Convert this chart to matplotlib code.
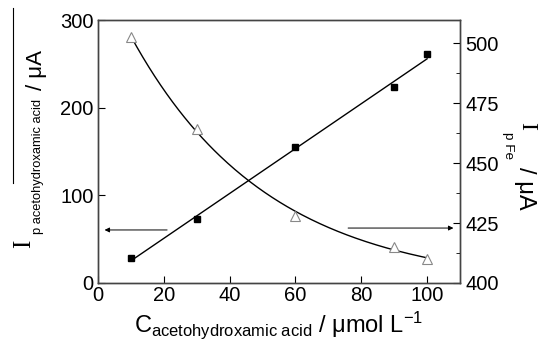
import numpy as np
import matplotlib.pyplot as plt
from matplotlib.ticker import MultipleLocator

plt.rcParams['font.family'] = ['Liberation Sans', 'DejaVu Sans']
plt.rcParams['mathtext.fontset'] = 'custom'
plt.rcParams['mathtext.rm'] = 'Liberation Sans'
plt.rcParams['mathtext.it'] = 'Liberation Sans:italic'

# data
conc = [10, 30, 60, 90, 100]
i_aha = [28, 73, 155, 224, 261]          # left axis, filled squares
i_fe = [502.4, 464.3, 428.0, 415.1, 410.1]  # right axis, open triangles

x = np.array(conc, dtype=float)
y1 = np.array(i_aha)
y2 = np.array(i_fe)

# linear fit for squares
k, b = np.polyfit(x, y1, 1)
xf = np.linspace(10, 100, 200)

# exponential decay fit for triangles: y = y0 + A*exp(-x/t)
best = None
for t in np.linspace(5, 200, 800):
    M = np.column_stack([np.ones_like(x), np.exp(-x / t)])
    c, res, _, _ = np.linalg.lstsq(M, y2, rcond=None)
    err = np.sum((M @ c - y2) ** 2)
    if best is None or err < best[0]:
        best = (err, t, c)
_, tau, (y0, A) = best

W, H = 539, 355
fig = plt.figure(figsize=(W / 100, H / 100), dpi=100)
ax = fig.add_axes([98 / W, 1 - 283 / H, (460 - 98) / W, (283 - 20) / H])
ax2 = ax.twinx()

ax.plot(xf, k * xf + b, color='black', lw=1.0)
ax.plot(x, y1, 's', color='black', ms=4.5)
ax2.plot(xf, y0 + A * np.exp(-xf / tau), color='black', lw=1.0)
ax2.plot(x, y2, '^', mfc='white', mec='#888888', ms=6.5, mew=0.8)

ax.annotate('', xy=(2, 60.5), xytext=(21, 60.5),
            arrowprops=dict(arrowstyle='-|>', color='black', lw=0.7,
                            mutation_scale=7, shrinkA=0, shrinkB=0))
ax2.annotate('', xy=(108, 422.9), xytext=(76, 422.9),
             arrowprops=dict(arrowstyle='-|>', color='black', lw=0.7,
                             mutation_scale=7, shrinkA=0, shrinkB=0))

ax.set_xlim(0, 110)
ax.set_ylim(0, 300)
ax2.set_ylim(400, 509.6)
ax.xaxis.set_major_locator(MultipleLocator(20))
ax.yaxis.set_major_locator(MultipleLocator(100))
ax2.yaxis.set_major_locator(MultipleLocator(25))
ax2.yaxis.set_minor_locator(MultipleLocator(12.5))

for a in (ax, ax2):
    for s in a.spines.values():
        s.set_color('#444444')
        s.set_linewidth(1.0)
ax.tick_params(axis='x', direction='in', length=5, labelsize=14.5, pad=2)
ax.tick_params(axis='y', direction='in', length=5, labelsize=14.5, pad=3)
ax2.tick_params(direction='in', length=5, labelsize=14.5, pad=4)
ax2.tick_params(which='minor', direction='in', length=3)

ax.set_xlabel(r'C$_{\mathrm{acetohydroxamic\ acid}}$ / $\mathrm{\mu}$mol L$^{\mathrm{-1}}$',
              fontsize=17, labelpad=3)


def ftext(px, py, s, size, rot, serif=False):
    fam = ['Liberation Serif'] if serif else ['Liberation Sans', 'DejaVu Sans']
    fig.text(px / W, 1 - py / H, s, fontsize=size, rotation=rot,
             rotation_mode='anchor', ha='left', va='baseline', family=fam)


# left y label, reading upwards
ftext(30, 248, 'I', 18, 90, serif=True)
ftext(41, 234, 'p acetohydroxamic acid', 9.3, 90)
ftext(42, 90, '/ \u03bcA', 16, 90)

# right y label, reading downwards
ftext(521, 122, 'I', 17, 270, serif=True)
ftext(505, 132, 'p Fe', 9.7, 270)
ftext(519, 167, '/ \u03bcA', 17, 270)

fig.add_artist(plt.Line2D([13 / W, 13 / W], [1 - 183 / H, 1 - 8 / H],
                          color='black', lw=0.8))

fig.savefig('out.png', dpi=100)
